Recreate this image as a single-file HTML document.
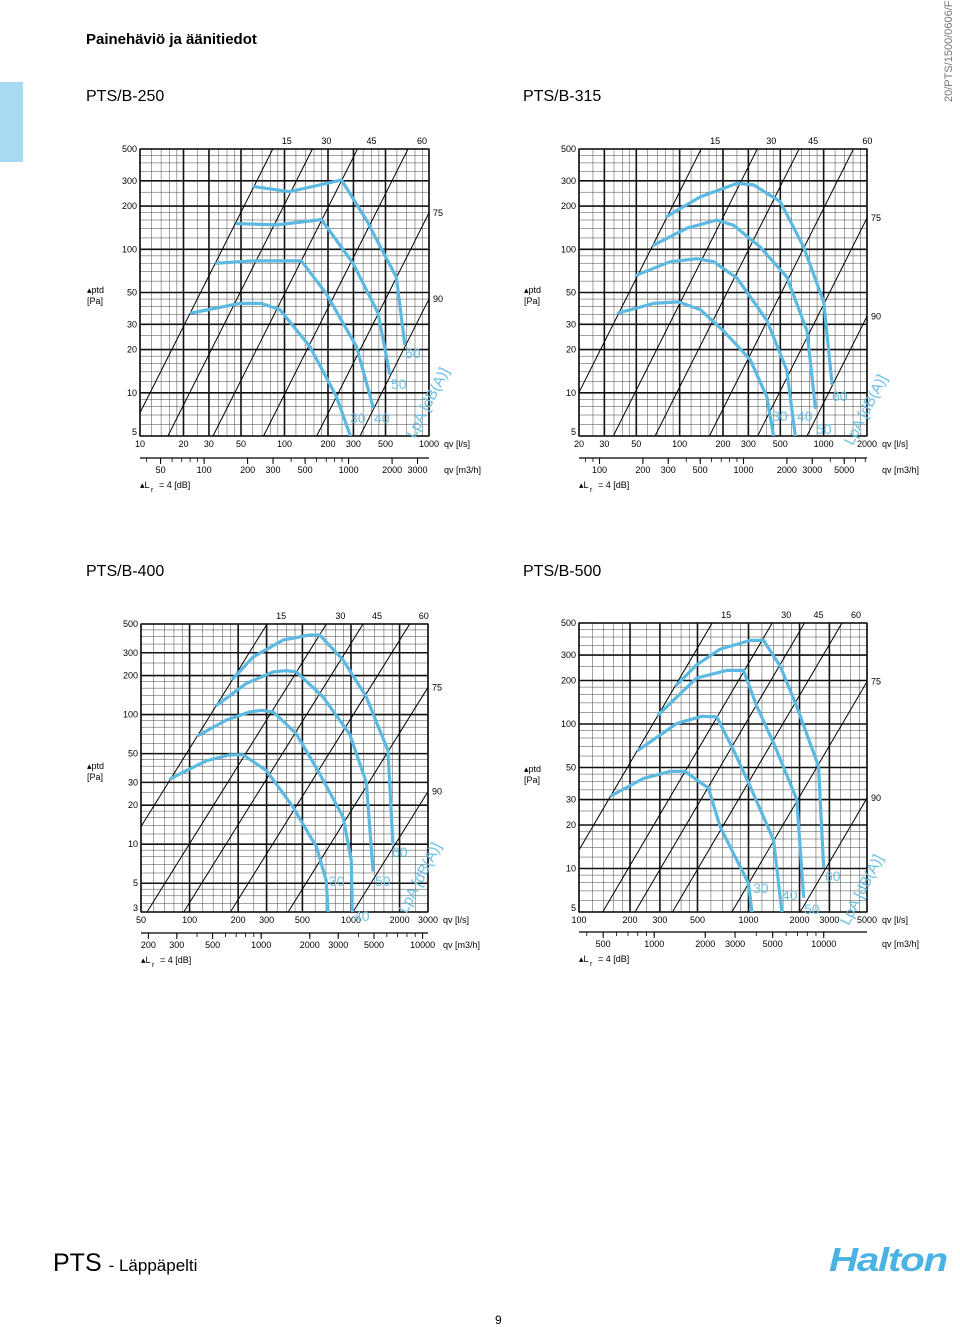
<!DOCTYPE html>
<html><head><meta charset="utf-8">
<style>
html,body{margin:0;padding:0;background:#fff;}
body{width:960px;height:1327px;overflow:hidden;position:relative;font-family:"Liberation Sans",sans-serif;}
.t{position:absolute;white-space:nowrap;color:#000;}
svg text{font-family:"Liberation Sans",sans-serif;}
</style></head>
<body>
<div class="t" style="left:86px;top:31px;font-size:15px;font-weight:bold;">Painehäviö ja äänitiedot</div>
<div style="position:absolute;left:0;top:82px;width:23px;height:80px;background:#a9daf3;"></div>
<div class="t" style="left:943px;top:102px;font-size:11px;color:#777;transform:rotate(-90deg);transform-origin:0 0;">20/PTS/1500/0606/FI</div>
<div class="t" style="left:86px;top:88px;font-size:16px;">PTS/B-250</div>
<div class="t" style="left:523px;top:88px;font-size:16px;">PTS/B-315</div>
<div class="t" style="left:86px;top:563px;font-size:16px;">PTS/B-400</div>
<div class="t" style="left:523px;top:563px;font-size:16px;">PTS/B-500</div>
<div class="t" style="left:53px;top:1249px;font-size:25px;">PTS <span style="font-size:17px;">- Läppäpelti</span></div>
<div class="t" style="left:829px;top:1241px;font-size:33px;font-weight:bold;font-style:italic;color:#4ab3e3;letter-spacing:-1px;transform:scaleX(1.22);transform-origin:0 0;">Halton</div>
<div class="t" style="left:495px;top:1313px;font-size:12px;">9</div>
<svg id="svg" width="960" height="1327" style="position:absolute;left:0;top:0;" xmlns="http://www.w3.org/2000/svg"></svg>
<script>
// ---- Chart 1: PTS/B-250 ----
var c1XTicks=[10,20,30,50,100,200,300,500,1000];
var c1YTicks=[5,10,20,30,50,100,200,300,500];
var c1M3Ticks=[50,100,200,300,500,1000,2000,3000];
var c1DiagQ=[8.3,15.6,32,71.6,167,333];
var c1Q30=[22.7,49,69,93,150,229,286], c1P30=[36,42,42,38,21,9.4,5];
var c1Q40=[34,61,131,195,315,410], c1P40=[80,83,83,49,21,8];
var c1Q50=[47,88,180,298,444,535], c1P50=[151,148,161,80,36,13.6];
var c1Q60=[62,109,248,369,594,679], c1P60=[273,252,304,160,64,22];
// ---- Chart 2: PTS/B-315 ----
var c2XTicks=[20,30,50,100,200,300,500,1000,2000];
var c2YTicks=[5,10,20,30,50,100,200,300,500];
var c2M3Ticks=[100,200,300,500,1000,2000,3000,5000];
var c2DiagQ=[14.1,34.6,67.5,161,348,766];
var c2Q30=[37.5,66,98,139,202,309,403,449], c2P30=[36,42,43,38,27,17,9.4,5];
var c2Q40=[50,86,132,172,250,403,555,635], c2P40=[66,82,86,82,63,32,14.4,5];
var c2Q50=[66,112,181,237,362,555,766,875], c2P50=[107,140,160,147,104,64,27,7.9];
var c2Q60=[81,139,250,326,499,726,1000,1143], c2P60=[169,232,288,281,215,104,43,11.6];
// ---- Chart 3: PTS/B-400 ----
var c3XTicks=[50,100,200,300,500,1000,2000,3000];
var c3YTicks=[3,5,10,20,30,50,100,200,300,500];
var c3M3Ticks=[200,300,500,1000,2000,3000,5000,10000];
var c3DiagQ=[23.4,54.5,92,179,408,1029];
var c3Q30=[76,127,178,215,299,437,611,703,721], c3P30=[32,44,49,49,37,19.4,9.5,5.2,3];
var c3Q40=[113,170,236,279,330,459,640,893,1005,1019], c3P40=[69,91,105,108,105,71,35,16.2,7.5,3];
var c3Q50=[147,225,330,398,459,671,981,1244,1368], c3P50=[118,174,214,218,214,137,71,30,6.3];
var c3Q60=[186,248,380,555,640,893,1244,1694,1819], c3P60=[190,279,376,411,411,264,137,53,10.1];
// ---- Chart 4: PTS/B-500 ----
var c4XTicks=[100,200,300,500,1000,2000,3000,5000];
var c4YTicks=[5,10,20,30,50,100,200,300,500];
var c4M3Ticks=[500,1000,2000,3000,5000,10000];
var c4DiagQ=[61,138,214,356,798,2018];
var c4Q30=[156,240,344,422,580,681,815,1000,1047], c4P30=[32,42,47,47,36,19.4,12.7,7.9,5];
var c4Q40=[224,378,530,650,815,1023,1406,1574], c4P40=[66,101,113,112,66,37,15.7,5];
var c4Q50=[294,495,745,934,1120,1406,1928,2113], c4P50=[116,208,235,235,132,74,30,6.4];
var c4Q60=[378,495,681,1023,1227,1538,1928,2588,2772], c4P60=[187,257,330,379,379,251,132,51,10.3];
var diagLabels=["15","30","45","60","75","90"];
var curveLabels=["30","40","50","60"];

var NS="http://www.w3.org/2000/svg";
var svg=document.getElementById('svg');
function mk(tag,attrs,parent){var e=document.createElementNS(NS,tag);for(var k in attrs)e.setAttribute(k,attrs[k]);(parent||svg).appendChild(e);return e;}
function txt(s,x,y,size,anchor,parent,fill){var e=mk('text',{x:x,y:y,'font-size':size,'text-anchor':anchor||'start',fill:fill||'#000'},parent);e.textContent=s;return e;}
var L=Math.log10;

function chart(id,cfg){
  var g=mk('g',{});
  
  
  var x0=cfg.x0,x1=cfg.x1,y0=cfg.y0,y1=cfg.y1;
  function xs(q){return x0+(L(q)-L(cfg.qmin))/(L(cfg.qmax)-L(cfg.qmin))*(x1-x0);}
  function ys(p){return y1-(L(p)-L(cfg.pmin))/(L(cfg.pmax)-L(cfg.pmin))*(y1-y0);}
  var cid='clip-'+id;
  var cp=mk('clipPath',{id:cid},g);mk('rect',{x:x0,y:y0,width:x1-x0,height:y1-y0},cp);
  var grid=mk('g',{},g);
  
  
  var vm=[1,1.2,1.4,1.6,1.8,2,2.5,3,3.5,4,4.5,5,6,7,8,9];
  for(var d=-1;d<6;d++)for(var i=0;i<vm.length;i++){var v=vm[i]*Math.pow(10,d);
    if(v>cfg.qmin*1.001&&v<cfg.qmax*0.999)mk('line',{x1:xs(v),y1:y0,x2:xs(v),y2:y1,stroke:'#444','stroke-width':0.5},grid);
    if(v>cfg.pmin*1.001&&v<cfg.pmax*0.999)mk('line',{x1:x0,y1:ys(v),x2:x1,y2:ys(v),stroke:'#444','stroke-width':0.5},grid);}
  cfg.xt.forEach(function(v){mk('line',{x1:xs(v),y1:y0,x2:xs(v),y2:y1,stroke:'#111','stroke-width':1.6},grid);
    var t=txt(String(v),xs(v),y1+11,9,'middle',g);});
  cfg.yt.forEach(function(v){mk('line',{x1:x0,y1:ys(v),x2:x1,y2:ys(v),stroke:'#111','stroke-width':1.6},grid);
    var yy=(v===cfg.pmin)?ys(v)-1:ys(v)+3,xx=x0-3;
    var t=txt(String(v),xx,yy,9,'end',g);});
  mk('rect',{x:x0,y:y0,width:x1-x0,height:y1-y0,fill:'none',stroke:'#111','stroke-width':1.2},g);
  var dg=mk('g',{'clip-path':'url(#'+cid+')'},g);
  cfg.dq.forEach(function(qd,i){
    var qa=cfg.qmin/2,qb=cfg.qmax*2;
    var l=mk('line',{x1:xs(qa),y1:ys(cfg.pmin*Math.pow(qa/qd,2)),x2:xs(qb),y2:ys(cfg.pmin*Math.pow(qb/qd,2)),stroke:'#000','stroke-width':1},dg);
    
    
    var qt=qd*Math.sqrt(cfg.pmax/cfg.pmin),t;
    if(qt<cfg.qmax){t=txt(diagLabels[i],xs(qt)+14,y0-5,9,'middle',g);}
    else{t=txt(diagLabels[i],x1+4,ys(cfg.pmin*Math.pow(cfg.qmax/qd,2))+3,9,'start',g);}
    
    
  });
  cfg.curves.forEach(function(c,i){
    var d='';for(var k=0;k<c[0].length;k++)d+=(k?'L':'M')+xs(c[0][k]).toFixed(1)+','+ys(c[1][k]).toFixed(1);
    var p=mk('path',{d:d,fill:'none',stroke:'#5cb9e2','stroke-width':3.2,'stroke-linejoin':'round','stroke-linecap':'round','clip-path':'url(#'+cid+')'},g);
    
    
    var lp=cfg.lab[i];
    var t=txt(curveLabels[i],lp[0],lp[1],14,'start',g,'#6cc0e6');
    
    
  });
  var lt=txt('LpA [dB(A)]',0,0,15,'middle',g,'#6cc0e6');
  lt.setAttribute('transform','translate('+cfg.lpa[0]+','+cfg.lpa[1]+') rotate(-63)');
  
  
  var u=txt('qv [l/s]',x1+15,y1+11,9,'start',g);
  
  var ay=cfg.ay;
  function xm(m){return xs(m/3.6);}
  mk('line',{x1:x0,y1:ay,x2:x1,y2:ay,stroke:'#000','stroke-width':1.2},g);
  for(var d=0;d<6;d++)for(var i=1;i<10;i++){var m=i*Math.pow(10,d);
    if(m/3.6>=cfg.qmin&&m/3.6<=cfg.qmax)mk('line',{x1:xm(m),y1:ay,x2:xm(m),y2:ay+4,stroke:'#000','stroke-width':0.8},g);}
  cfg.mt.forEach(function(m){mk('line',{x1:xm(m),y1:ay,x2:xm(m),y2:ay+6,stroke:'#000','stroke-width':1},g);
    var t=txt(String(m),xm(m),ay+15,9,'middle',g);});
  var u2=txt('qv [m3/h]',x1+15,ay+15,9,'start',g);
  
  var lr=txt('\u25B4L',x0,ay+30,9,'start',g);
  
  txt('r',x0+11,ay+34,7,'start',g);
  txt('= 4 [dB]',x0+19,ay+30,9,'start',g);
  var yl=txt('\u25B4ptd',cfg.ylx,cfg.yly,9,'start',g);
  
  txt('[Pa]',cfg.ylx,cfg.yly+11,9,'start',g);
}
chart('chart-pts-b-250',{x0:140,x1:429,y0:149,y1:436,qmin:10,qmax:1000,pmin:5,pmax:500,xt:c1XTicks,yt:c1YTicks,mt:c1M3Ticks,dq:c1DiagQ,
  curves:[[c1Q30,c1P30],[c1Q40,c1P40],[c1Q50,c1P50],[c1Q60,c1P60]],lab:[[350,423],[374,423],[391,389],[405,358]],lpa:[432,405],ay:458,ylx:87,yly:293});
chart('chart-pts-b-315',{x0:579,x1:867,y0:149,y1:436,qmin:20,qmax:2000,pmin:5,pmax:500,xt:c2XTicks,yt:c2YTicks,mt:c2M3Ticks,dq:c2DiagQ,
  curves:[[c2Q30,c2P30],[c2Q40,c2P40],[c2Q50,c2P50],[c2Q60,c2P60]],lab:[[772,421],[797,421],[816,434],[832,401]],lpa:[870,412],ay:458,ylx:524,yly:293});
chart('chart-pts-b-400',{x0:141,x1:428,y0:624,y1:912,qmin:50,qmax:3000,pmin:3,pmax:500,xt:c3XTicks,yt:c3YTicks,mt:c3M3Ticks,dq:c3DiagQ,
  curves:[[c3Q30,c3P30],[c3Q40,c3P40],[c3Q50,c3P50],[c3Q60,c3P60]],lab:[[329,886],[354,921],[375,886],[392,857]],lpa:[424,880],ay:933,ylx:87,yly:769});
chart('chart-pts-b-500',{x0:579,x1:867,y0:623,y1:912,qmin:100,qmax:5000,pmin:5,pmax:500,xt:c4XTicks,yt:c4YTicks,mt:c4M3Ticks,dq:c4DiagQ,
  curves:[[c4Q30,c4P30],[c4Q40,c4P40],[c4Q50,c4P50],[c4Q60,c4P60]],lab:[[753,893],[782,900],[804,914],[825,881]],lpa:[866,892],ay:932,ylx:524,yly:772});
</script>
</body></html>
